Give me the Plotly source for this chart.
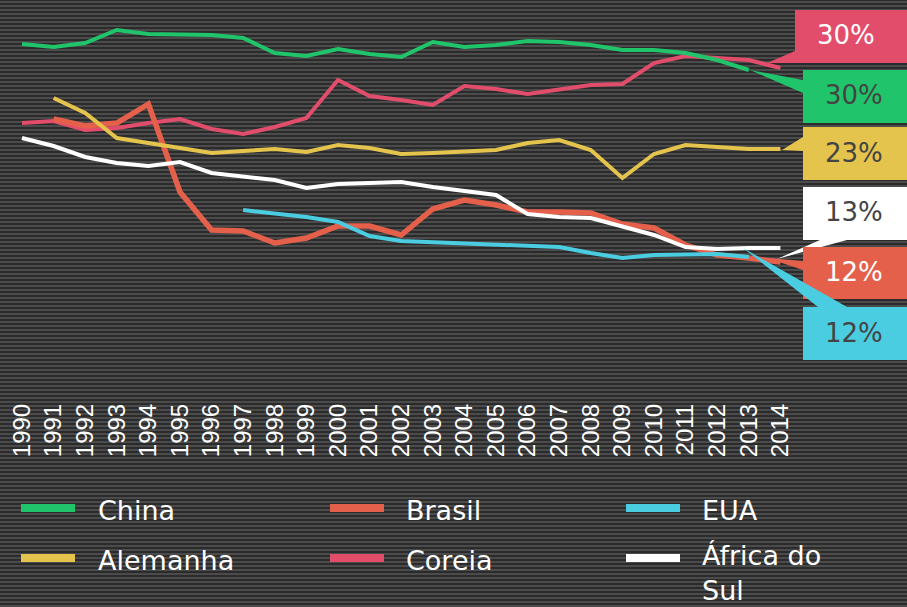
import plotly.graph_objects as go

# ---------------- data ----------------
years = list(range(1990, 2015))
tick_labels = [str(y) for y in years]

china = [33.4, 33.1, 33.5, 34.8, 34.4, 34.4, 34.3, 34.0, 32.5, 32.2, 32.9, 32.4, 32.1,
         33.6, 33.1, 33.3, 33.7, 33.6, 33.3, 32.8, 32.8, 32.5, 31.8, 30.8, None]
coreia = [25.5, 25.7, 24.8, 25.0, 25.5, 25.9, 24.9, 24.4, 25.1, 26.0, 29.8, 28.2, 27.8,
          27.3, 29.2, 28.9, 28.4, 28.8, 29.3, 29.4, 31.5, 32.2, 32.0, 31.8, 31.0]
alemanha = [None, 28.0, 26.5, 24.0, 23.5, 23.1, 22.5, 22.7, 22.9, 22.6, 23.3, 23.0, 22.4,
            22.5, 22.7, 22.8, 23.5, 23.8, 22.8, 20.0, 22.4, 23.3, 23.1, 22.9, 22.9]
brasil = [None, 25.9, 25.2, 25.5, 27.4, 18.6, 14.8, 14.7, 13.5, 14.0, 15.2, 15.2, 14.3,
          16.9, 17.8, 17.3, 16.6, 16.6, 16.5, 15.4, 15.0, 13.3, 12.3, 12.0, 11.6]
eua = [None, None, None, None, None, None, None, 16.8, 16.5, 16.1, 15.6, 14.2, 13.7,
       13.6, 13.5, 13.3, 13.3, 13.1, 12.5, 12.0, 12.3, 12.4, 12.4, 12.1, None]
africa_sul = [24.0, 23.2, 22.1, 21.5, 21.2, 21.6, 20.5, 20.2, 19.8, 19.0, 19.4, 19.5, 19.6,
              19.1, 18.7, 18.3, 16.4, 16.1, 16.0, 15.1, 14.3, 13.1, 12.9, 13.0, 13.0]

series_names = ["Coreia", "Brasil", "Alemanha", "EUA", "África do Sul", "China"]
series_values = [coreia, brasil, alemanha, eua, africa_sul, china]
end_labels = {"Coreia": "30%", "China": "30%", "Alemanha": "23%",
              "África do Sul": "13%", "Brasil": "12%", "EUA": "12%"}
legend_order = ["China", "Brasil", "EUA", "Alemanha", "Coreia", "África do Sul"]
legend_text = {"África do Sul": "África do<br>Sul"}

# ---------------- style ----------------
colors = {"China": "#20c56b", "Brasil": "#e4604b", "EUA": "#4bcde1",
          "Alemanha": "#e4c44c", "Coreia": "#e34d6c", "África do Sul": "#ffffff"}
widths = {"China": 4, "Brasil": 5.5, "EUA": 4, "Alemanha": 4, "Coreia": 4,
          "África do Sul": 4}
label_text_color = {"China": "#444444", "Brasil": "#ffffff", "EUA": "#444444",
                    "Alemanha": "#444444", "Coreia": "#ffffff", "África do Sul": "#444444"}

W, H = 907, 607
PLOT_H = 398
X0_PX, DX, Y0_PX, DY = 22, 31.6, 378, 10.0
x_left = 1990 - X0_PX / DX
x_right = x_left + W / DX
y_top = Y0_PX / DY
y_bottom = (Y0_PX - PLOT_H) / DY


def P(x, y):
    """pixel -> paper coords"""
    return x / W, 1 - y / PLOT_H


# callout boxes (pixel geometry): box x0,y0,x1,y1 ; wedge tip ; wedge base pts ; text x
callouts = {
    "Coreia": dict(box=(795, 10, 907, 63), tip=(767, 63), base=((795, 51), (795, 63)), tx=815),
    "China": dict(box=(803, 70, 907, 123), tip=(750, 70), base=((803, 80), (803, 93)), tx=823),
    "Alemanha": dict(box=(803, 127, 907, 180), tip=(782, 150), base=((803, 137), (803, 151)), tx=823),
    "África do Sul": dict(box=(803, 187, 907, 240), tip=(777, 259), base=((820, 240), (847, 240)), tx=823),
    "Brasil": dict(box=(803, 247, 907, 299), tip=(767, 258), base=((803, 261), (803, 270)), tx=823),
    "EUA": dict(box=(803, 307, 907, 360), tip=(743, 248), base=((818, 307), (847, 307)), tx=823),
}

legend_cols_x = [21, 330, 626]
legend_text_x = [97, 405, 701]
legend_rows_y = [508, 558]
LEGEND_FONT = 27

fig = go.Figure()
for name, vals in zip(series_names, series_values):
    fig.add_trace(go.Scatter(
        x=years, y=vals, mode="lines", name=name,
        line=dict(color=colors[name], width=widths[name]),
        connectgaps=False, showlegend=False, hoverinfo="x+y+name"))

shapes = []
# striped background
segs = []
for k in range(0, H // 4 + 2):
    yc = 4 * k + 2
    xa, ya = P(0, yc)
    xb, _ = P(W, yc)
    segs.append(f"M{xa},{ya}L{xb},{ya}")
shapes.append(dict(type="path", path="".join(segs), xref="paper", yref="paper",
                   line=dict(color="#4b4b4b", width=2), layer="below"))

annotations = []
for name, c in callouts.items():
    tx, ty = P(*c["tip"])
    b1 = P(*c["base"][0])
    b2 = P(*c["base"][1])
    shapes.append(dict(type="path", xref="paper", yref="paper",
                       path=f"M{tx},{ty}L{b1[0]},{b1[1]}L{b2[0]},{b2[1]}Z",
                       fillcolor=colors[name], line=dict(width=0), layer="above"))
    x0, y0, x1, y1 = c["box"]
    p0 = P(x0, y0)
    p1 = P(x1, y1)
    shapes.append(dict(type="rect", xref="paper", yref="paper",
                       x0=p0[0], y0=p1[1], x1=p1[0], y1=p0[1],
                       fillcolor=colors[name], line=dict(width=0), layer="above"))
    ax, ay = P(c["tx"], (y0 + y1) / 2 - 1)
    annotations.append(dict(x=ax, y=ay, xref="paper", yref="paper", xanchor="left",
                            yanchor="middle", showarrow=False, text=end_labels[name],
                            font=dict(family="DejaVu Sans", size=26,
                                      color=label_text_color[name])))

# manual legend
for i, name in enumerate(legend_order):
    r, col = divmod(i, 3)
    sx = legend_cols_x[col]
    sy = legend_rows_y[r]
    a = P(sx, sy - 4)
    b = P(sx + 54, sy + 4)
    shapes.append(dict(type="rect", xref="paper", yref="paper",
                       x0=a[0], y0=b[1], x1=b[0], y1=a[1],
                       fillcolor=colors[name], line=dict(width=0)))
    text = legend_text.get(name, name)
    if "<br>" in text:
        lx, ly = P(legend_text_x[col], H)
        yanchor = "bottom"
    else:
        lx, ly = P(legend_text_x[col], sy + 2)
        yanchor = "middle"
    annotations.append(dict(x=lx, y=ly, xref="paper", yref="paper", xanchor="left",
                            yanchor=yanchor, align="left", showarrow=False,
                            text=text, borderpad=0,
                            font=dict(family="DejaVu Sans", size=LEGEND_FONT,
                                      color="#ffffff")))

fig.update_layout(
    width=W, height=H,
    margin=dict(l=0, r=0, t=0, b=H - PLOT_H, pad=0),
    paper_bgcolor="#2b2b2b", plot_bgcolor="rgba(0,0,0,0)",
    shapes=shapes, annotations=annotations,
    showlegend=False,
    xaxis=dict(range=[x_left, x_right], tickmode="array", tickvals=years,
               ticktext=tick_labels, tickangle=-90, showgrid=False, zeroline=False,
               showline=False, ticks="", fixedrange=True,
               tickfont=dict(family="Liberation Sans", size=24, color="#ffffff")),
    yaxis=dict(range=[y_bottom, y_top], visible=False, showgrid=False, fixedrange=True),
)

fig.write_html(
    "out.html",
    config={"displayModeBar": False},
    post_script="document.body.style.margin='0';document.body.style.overflow='hidden';",
)
